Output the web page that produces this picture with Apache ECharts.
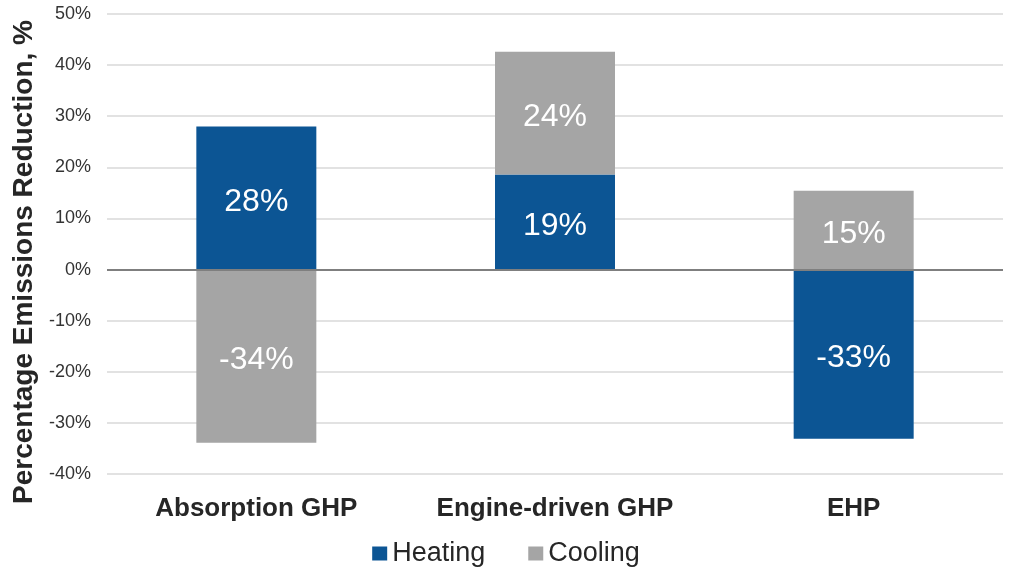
<!DOCTYPE html>
<html><head><meta charset="utf-8">
<script src="https://cdn.jsdelivr.net/npm/echarts@6/dist/echarts.min.js"></script>
<style>html,body{margin:0;padding:0;background:#fff}#c{width:1012px;height:569px}</style>
</head><body><div id="c"></div>
<script>
const categories = ['Absorption GHP', 'Engine-driven GHP', 'EHP'];
const heating = [28.0, 18.6, -33.1];
const cooling = [-33.9, 24.0, 15.4];
const yTicks = [-40, -30, -20, -10, 0, 10, 20, 30, 40, 50];

const chart = echarts.init(document.getElementById('c'));
const lbl = {
  show: true, position: 'inside', color: '#fff', fontSize: 32, offset: [0, 4],
  fontFamily: 'Liberation Sans, Arial, sans-serif',
  formatter: p => Math.round(p.value) + '%'
};
chart.setOption({
  animation: false,
  textStyle: { fontFamily: 'Liberation Sans, Arial, sans-serif' },
  grid: { left: 107, right: 9, top: 14, bottom: 95, containLabel: false },
  legend: {
    top: 535, left: 'center', itemWidth: 15, itemHeight: 14, itemGap: 43,
    icon: 'rect',
    textStyle: { fontSize: 27, color: '#262626' },
    data: ['Heating', 'Cooling']
  },
  xAxis: {
    type: 'category', data: categories,
    axisLine: { show: false }, axisTick: { show: false },
    axisLabel: { fontSize: 26, fontWeight: 'bold', color: '#262626', margin: 22,
      interval: 0 }
  },
  yAxis: {
    type: 'value', min: yTicks[0], max: yTicks[yTicks.length - 1], interval: 10,
    name: 'Percentage Emissions Reduction, %', nameLocation: 'middle', nameGap: 67,
    nameTextStyle: { fontSize: 28, fontWeight: 'bold', color: '#262626', padding: [0, 36, 0, 0] },
    axisLabel: { fontSize: 18, color: '#333', formatter: v => v + '%', margin: 16 },
    axisLine: { show: false }, axisTick: { show: false },
    splitLine: { lineStyle: { color: '#d9d9d9', width: 1.5 } }
  },
  series: [
    { name: 'Heating', type: 'bar', stack: 'a', data: heating, barWidth: 120,
      itemStyle: { color: '#0c5594' }, label: lbl,
      markLine: { silent: true, symbol: 'none', label: { show: false },
        lineStyle: { color: '#7f7f7f', width: 2, type: 'solid' },
        data: [{ yAxis: 0 }] } },
    { name: 'Cooling', type: 'bar', stack: 'a', data: cooling, barWidth: 120,
      itemStyle: { color: '#a5a5a5' }, label: lbl }
  ]
});
</script></body></html>
